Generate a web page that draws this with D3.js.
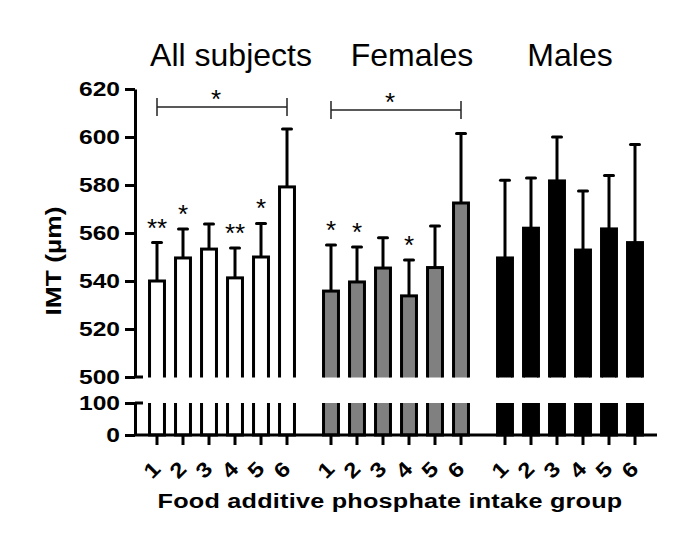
<!DOCTYPE html>
<html>
<head>
<meta charset="utf-8">
<script src="https://cdn.jsdelivr.net/npm/d3@7"></script>
<style>
  html, body { margin: 0; padding: 0; background: #fff; }
  svg { display: block; }
  text { font-family: "Liberation Sans", Arial, sans-serif; fill: #000; }
</style>
</head>
<body>
<svg id="chart" width="685" height="550"></svg>
<script>
// ---------- data ----------
const groups = ["All subjects", "Females", "Males"];
const intakeGroups = ["1", "2", "3", "4", "5", "6"];
const allMeans    = [540.0, 549.6, 553.3, 541.3, 550.0, 579.2];
const allUpper    = [556.0, 561.7, 563.7, 553.7, 564.0, 603.3];
const femaleMeans = [535.8, 539.6, 545.4, 533.8, 545.6, 572.5];
const femaleUpper = [555.0, 554.2, 558.0, 548.8, 562.9, 601.5];
const maleMeans   = [549.6, 562.0, 581.7, 552.9, 561.7, 556.0];
const maleUpper   = [582.0, 582.9, 600.0, 577.5, 584.0, 596.9];
const allStars    = ["**", "*", "", "**", "*", ""];
const femaleStars = ["*", "*", "", "*", "", ""];
const maleStars   = ["", "", "", "", "", ""];
const bracketGroups = ["All subjects", "Females"];
const bracketValues = [612.5, 611.3];
const bracketLabels = ["*", "*"];
const upperTicks = [500, 520, 540, 560, 580, 600, 620];
const lowerTicks = [0, 100];
const groupColors = ["#ffffff", "#808080", "#000000"];

const seriesByGroup = {
  "All subjects": { means: allMeans, upper: allUpper, stars: allStars },
  "Females": { means: femaleMeans, upper: femaleUpper, stars: femaleStars },
  "Males": { means: maleMeans, upper: maleUpper, stars: maleStars }
};
const rows = [];
groups.forEach((g, gi) => {
  intakeGroups.forEach((k, i) => {
    rows.push({ group: g, gi, key: k, mean: seriesByGroup[g].means[i],
                upper: seriesByGroup[g].upper[i], star: seriesByGroup[g].stars[i] });
  });
});

// ---------- scales ----------
const svg = d3.select("#chart");
const axisX = 135;
const stretch = 1.2;
const xGroup = d3.scaleBand().domain(groups).range([144, 648]).paddingInner(0.1034).paddingOuter(0);
const xInner = d3.scaleBand().domain(intakeGroups).range([0, xGroup.bandwidth()])
  .paddingInner(0.31).paddingOuter(0.155);
const yTop = d3.scaleLinear().domain([500, 620]).range([377, 89]);
const yBot = d3.scaleLinear().domain([0, 100]).range([435, 403]);
const xc = d => xGroup(d.group) + xInner(d.key) + xInner.bandwidth() / 2;
const color = d3.scaleOrdinal().domain(groups).range(groupColors);

const sw = 3;

// clip paths for the two segments
const defs = svg.append("defs");
defs.append("clipPath").attr("id", "clipTop").append("rect")
  .attr("x", 0).attr("width", 685).attr("y", 0).attr("height", yTop(500) + 0.5);
defs.append("clipPath").attr("id", "clipBot").append("rect")
  .attr("x", 0).attr("width", 685).attr("y", yBot(100)).attr("height", 550 - yBot(100));

// ---------- bars (upper segment) ----------
const gTop = svg.append("g").attr("clip-path", "url(#clipTop)");
gTop.selectAll("rect").data(rows).join("rect")
  .attr("x", d => xGroup(d.group) + xInner(d.key) + sw / 2)
  .attr("width", xInner.bandwidth() - sw)
  .attr("y", d => yTop(d.mean))
  .attr("height", d => yTop(490) - yTop(d.mean))
  .attr("fill", d => color(d.group))
  .attr("stroke", "#000").attr("stroke-width", sw);

// ---------- bars (lower segment) ----------
const gBot = svg.append("g").attr("clip-path", "url(#clipBot)");
gBot.selectAll("rect").data(rows).join("rect")
  .attr("x", d => xGroup(d.group) + xInner(d.key) + sw / 2)
  .attr("width", xInner.bandwidth() - sw)
  .attr("y", yBot(130))
  .attr("height", yBot(0) - yBot(130))
  .attr("fill", d => color(d.group))
  .attr("stroke", "#000").attr("stroke-width", sw);

// ---------- error bars ----------
const gErr = svg.append("g").attr("stroke", "#000").attr("stroke-width", sw);
gErr.selectAll("line.v").data(rows).join("line").attr("class", "v")
  .attr("x1", xc).attr("x2", xc)
  .attr("y1", d => yTop(d.mean)).attr("y2", d => yTop(d.upper));
gErr.selectAll("line.c").data(rows).join("line").attr("class", "c")
  .attr("stroke-linecap", "round")
  .attr("x1", d => xc(d) - 4.5).attr("x2", d => xc(d) + 4.5)
  .attr("y1", d => yTop(d.upper)).attr("y2", d => yTop(d.upper));

// ---------- significance stars over bars ----------
svg.append("g").selectAll("text").data(rows.filter(d => d.star)).join("text")
  .attr("x", xc).attr("y", d => yTop(d.upper) - 6)
  .attr("text-anchor", "middle")
  .attr("font-size", 26)
  .text(d => d.star);

// ---------- brackets ----------
const gBr = svg.append("g");
bracketGroups.forEach((g, i) => {
  const x1 = xGroup(g) + xInner(intakeGroups[0]) + xInner.bandwidth() / 2;
  const x2 = xGroup(g) + xInner(intakeGroups[5]) + xInner.bandwidth() / 2;
  const y = yTop(bracketValues[i]);
  const b = gBr.append("g").attr("stroke", "#222").attr("stroke-width", 1.5);
  b.append("line").attr("x1", x1).attr("x2", x2).attr("y1", y).attr("y2", y);
  b.append("line").attr("x1", x1).attr("x2", x1).attr("y1", y - 9).attr("y2", y + 9);
  b.append("line").attr("x1", x2).attr("x2", x2).attr("y1", y - 9).attr("y2", y + 9);
  gBr.append("text").attr("x", (x1 + x2) / 2 - 6).attr("y", y + 1)
    .attr("text-anchor", "middle").attr("font-size", 26).text(bracketLabels[i]);
});

// ---------- y axes ----------
function styleAxis(g) {
  g.selectAll("path.domain").attr("stroke", "#000").attr("stroke-width", sw);
  g.selectAll(".tick line").attr("stroke", "#000").attr("stroke-width", sw);
  g.selectAll(".tick text").attr("font-size", 20.5).attr("font-weight", "bold")
    .attr("font-family", "'Liberation Sans', Arial, sans-serif").attr("fill", "#000")
    .attr("x", -15 / stretch)
    .attr("transform", `scale(${stretch},1)`);
}
const axTop = svg.append("g").attr("transform", `translate(${axisX},0)`)
  .call(d3.axisLeft(yTop).tickValues(upperTicks).tickSize(10).tickSizeOuter(0).tickPadding(5));
styleAxis(axTop);
axTop.append("line").attr("x1", 0).attr("x2", 8).attr("y1", yTop(500)).attr("y2", yTop(500))
  .attr("stroke", "#000").attr("stroke-width", sw);

const axBot = svg.append("g").attr("transform", `translate(${axisX},0)`)
  .call(d3.axisLeft(yBot).tickValues(lowerTicks).tickSize(10).tickSizeOuter(0).tickPadding(5));
styleAxis(axBot);
axBot.append("line").attr("x1", 0).attr("x2", 8).attr("y1", yBot(100)).attr("y2", yBot(100))
  .attr("stroke", "#000").attr("stroke-width", sw);

// ---------- x axis ----------
svg.append("line").attr("x1", axisX).attr("x2", 657)
  .attr("y1", yBot(0)).attr("y2", yBot(0))
  .attr("stroke", "#000").attr("stroke-width", sw);
svg.append("g").attr("stroke", "#000").attr("stroke-width", sw)
  .selectAll("line").data(rows).join("line")
  .attr("x1", xc).attr("x2", xc)
  .attr("y1", yBot(0)).attr("y2", yBot(0) + 10);
svg.append("g").selectAll("text").data(rows).join("text")
  .attr("transform", d => `translate(${xc(d) - 5},${yBot(0) + 35}) rotate(-45) scale(1.15,1)`)
  .attr("text-anchor", "middle").attr("dominant-baseline", "central")
  .attr("font-size", 21).attr("font-weight", "bold")
  .text(d => d.key);

// ---------- titles ----------
const titleShift = [9, 16, 0];
svg.append("g").selectAll("text").data(groups).join("text")
  .attr("x", (g, i) => xGroup(g) + xGroup.bandwidth() / 2 + titleShift[i])
  .attr("y", 66)
  .attr("text-anchor", "middle")
  .attr("font-size", 32)
  .text(g => g);

svg.append("text")
  .attr("transform", `translate(53,261) rotate(-90) scale(${stretch},1)`)
  .attr("text-anchor", "middle").attr("dominant-baseline", "central")
  .attr("font-size", 22).attr("font-weight", "bold")
  .text("IMT (µm)");

svg.append("text")
  .attr("transform", `translate(390,508) scale(${stretch},1)`)
  .attr("text-anchor", "middle")
  .attr("font-size", 21).attr("font-weight", "bold").attr("letter-spacing", 0.2)
  .text("Food additive phosphate intake group");
</script>
</body>
</html>
